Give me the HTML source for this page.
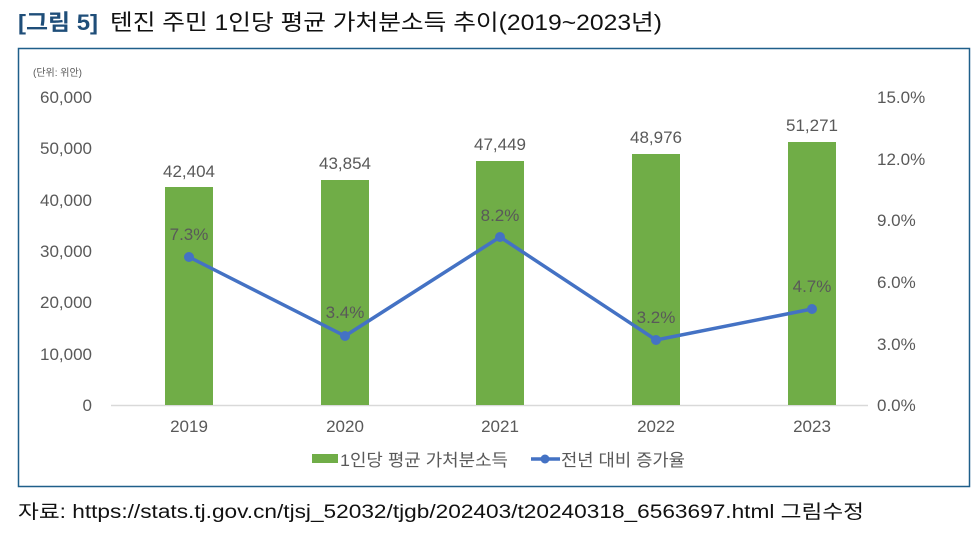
<!DOCTYPE html>
<html><head><meta charset="utf-8"><style>
body{margin:0;width:978px;height:534px;background:#fff;font-family:"Liberation Sans","Noto Sans CJK KR",sans-serif;overflow:hidden}
</style></head><body>
<svg width="978" height="534" xmlns="http://www.w3.org/2000/svg" style="position:absolute;left:0;top:0">
<text x="18" y="30" font-size="22" font-weight="bold" fill="#1f4e79" font-family="Liberation Sans,Noto Sans CJK KR,sans-serif" textLength="80" lengthAdjust="spacingAndGlyphs">[그림 5]</text>
<text x="110" y="30" font-size="22" fill="#111" font-family="Liberation Sans,Noto Sans CJK KR,sans-serif" textLength="552" lengthAdjust="spacingAndGlyphs">텐진 주민 1인당 평균 가처분소득 추이(2019~2023년)</text>
<rect x="18.5" y="48.5" width="951" height="438" fill="none" stroke="#1f5f8a" stroke-width="1.5"/>
<g font-family="Liberation Sans,Noto Sans CJK KR,sans-serif" fill="#595959">
<text x="33" y="76" font-size="10">(단위: 위안)</text>
<g font-size="17" text-anchor="end">
<text x="92" y="103">60,000</text><text x="92" y="154">50,000</text><text x="92" y="206">40,000</text>
<text x="92" y="257">30,000</text><text x="92" y="308">20,000</text><text x="92" y="360">10,000</text><text x="92" y="411">0</text>
</g>
<g font-size="17">
<text x="877" y="103">15.0%</text><text x="877" y="165">12.0%</text><text x="877" y="226">9.0%</text>
<text x="877" y="288">6.0%</text><text x="877" y="350">3.0%</text><text x="877" y="411">0.0%</text>
</g>
<line x1="111" y1="405.5" x2="868" y2="405.5" stroke="#d9d9d9" stroke-width="1.5"/>
<g fill="#70ad47">
<rect x="165" y="187" width="48" height="218"/>
<rect x="321" y="180" width="48" height="225"/>
<rect x="476" y="161" width="48" height="244"/>
<rect x="632" y="154" width="48" height="251"/>
<rect x="788" y="142" width="48" height="263"/>
</g>
<g font-size="17" text-anchor="middle">
<text x="189" y="177">42,404</text><text x="345" y="169">43,854</text><text x="500" y="150">47,449</text>
<text x="656" y="143">48,976</text><text x="812" y="131">51,271</text>
<text x="189" y="432">2019</text><text x="345" y="432">2020</text><text x="500" y="432">2021</text>
<text x="656" y="432">2022</text><text x="812" y="432">2023</text>
<text x="189" y="240">7.3%</text><text x="345" y="318">3.4%</text><text x="500" y="221">8.2%</text>
<text x="656" y="323">3.2%</text><text x="812" y="292">4.7%</text>
</g>
<polyline points="189,257 345,336 500,237 656,340 812,309" fill="none" stroke="#4472c4" stroke-width="3.5"/>
<g fill="#4472c4"><circle cx="189" cy="257" r="5"/><circle cx="345" cy="336" r="5"/><circle cx="500" cy="237" r="5"/><circle cx="656" cy="340" r="5"/><circle cx="812" cy="309" r="5"/></g>
<rect x="312" y="454" width="26" height="9" fill="#70ad47"/>
<text x="340" y="466" font-size="17" textLength="168" lengthAdjust="spacingAndGlyphs">1인당 평균 가처분소득</text>
<line x1="531" y1="459" x2="560" y2="459" stroke="#4472c4" stroke-width="3.5"/>
<circle cx="545" cy="459" r="4.5" fill="#4472c4"/>
<text x="561" y="466" font-size="17" textLength="124" lengthAdjust="spacingAndGlyphs">전년 대비 증가율</text>
</g>
<text x="18" y="518" font-size="19" fill="#111" font-family="Liberation Sans,Noto Sans CJK KR,sans-serif" textLength="846" lengthAdjust="spacingAndGlyphs">자료: https://stats.tj.gov.cn/tjsj_52032/tjgb/202403/t20240318_6563697.html 그림수정</text>
</svg>
</body></html>
